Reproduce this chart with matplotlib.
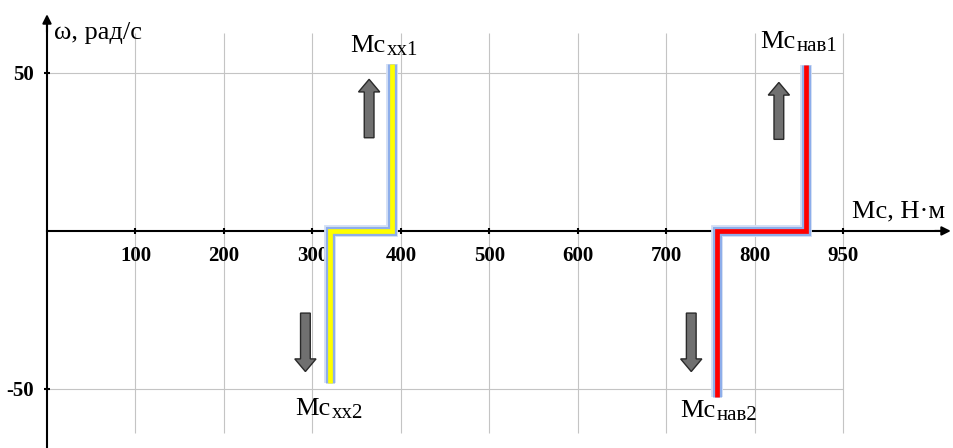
import matplotlib.pyplot as plt
import matplotlib.patheffects as pe
from matplotlib.patches import FancyArrow

plt.rcParams['font.family'] = ['Liberation Serif', 'DejaVu Serif']

# step characteristics (Mc, omega)
xx_m = [320, 320, 390, 390]
xx_w = [-48, 0, 0, 53]
nav_m = [757, 757, 858, 858]
nav_w = [-52.5, 0, 0, 52.5]

x_ticks = [100, 200, 300, 400, 500, 600, 700, 800, 900]
x_tick_labels = ['100', '200', '300', '400', '500', '600', '700', '800', '950']
y_ticks = [-50, 50]
y_tick_labels = ['-50', '50']

# gray block arrows: x, tail, tip
arrow_x = [364, 292, 827, 728]
arrow_tail = [29.5, -26, 29, -26]
arrow_tip = [48, -44.5, 47, -44.5]

# point labels
lab_sub = ['хх1', 'хх2', 'нав1', 'нав2']
lab_x = [343, 281, 806, 716]
lab_y = [56.7, -58.2, 58, -59]

fig = plt.figure(figsize=(9.54, 4.48), dpi=100)
ax = fig.add_axes([0, 0, 1, 1])
ax.set_xlim(-53.1, 1024.9)
ax.set_ylim(-68.7, 73.1)

# axes through the origin
for s in ['top', 'right']:
    ax.spines[s].set_visible(False)
ax.spines['left'].set_position(('data', 0))
ax.spines['bottom'].set_position(('data', 0))
ax.spines['left'].set_bounds(-69, 67)
ax.spines['bottom'].set_bounds(0, 1015)
ax.spines['left'].set_linewidth(1.5)
ax.spines['bottom'].set_linewidth(1.5)
ax.annotate('', xy=(0, 69.5), xytext=(0, 62), arrowprops=dict(arrowstyle='-|>', color='black', lw=1.5, mutation_scale=13))
ax.annotate('', xy=(1024.5, 0), xytext=(1000, 0), arrowprops=dict(arrowstyle='-|>', color='black', lw=1.5, mutation_scale=13))

ax.set_xticks(x_ticks)
ax.set_xticklabels(x_tick_labels, fontweight='bold', fontsize=15)
ax.set_yticks(y_ticks)
ax.set_yticklabels(y_tick_labels, fontweight='bold', fontsize=15)
ax.tick_params(axis='x', direction='inout', length=5, width=1.5, pad=8)
ax.tick_params(axis='y', direction='inout', length=5, width=1.5, pad=7)

# grid
ax.vlines(x_ticks, -64, 62.7, color='#c4c4c4', lw=0.8, zorder=0)
ax.hlines(y_ticks, 0, x_ticks[-1], color='#c4c4c4', lw=0.8, zorder=0)

glow = [pe.Stroke(linewidth=8.5, foreground='#d2def6'),
        pe.Stroke(linewidth=6.5, foreground='#8eaeea'),
        pe.Normal()]
ax.plot(xx_m, xx_w, color='#ffff00', lw=3.4, solid_joinstyle='miter',
        solid_capstyle='butt', path_effects=glow, zorder=3)
ax.plot(nav_m, nav_w, color='#ff0000', lw=3.4, solid_joinstyle='miter',
        solid_capstyle='butt', path_effects=glow, zorder=3)

for x, y0, y1 in zip(arrow_x, arrow_tail, arrow_tip):
    ax.add_patch(FancyArrow(x, y0, 0, y1 - y0, width=11, head_width=24,
                            head_length=4, length_includes_head=True,
                            facecolor='#707070', edgecolor='#2a2a2a', lw=1, zorder=4))

for sub, x, y in zip(lab_sub, lab_x, lab_y):
    t = ax.text(x, y, 'Мс', fontsize=19, va='baseline', ha='left')
    ax.annotate(sub, xy=(1, 0), xycoords=t, xytext=(0.5, 1.5),
                textcoords='offset points', fontsize=15, va='baseline', ha='left')

ax.text(8, 60.8, 'ω, рад/с', fontsize=19, va='baseline', ha='left')
ax.text(910, 4.4, 'Мс, Н·м', fontsize=19, va='baseline', ha='left')

fig.savefig('out.png', dpi=100)
